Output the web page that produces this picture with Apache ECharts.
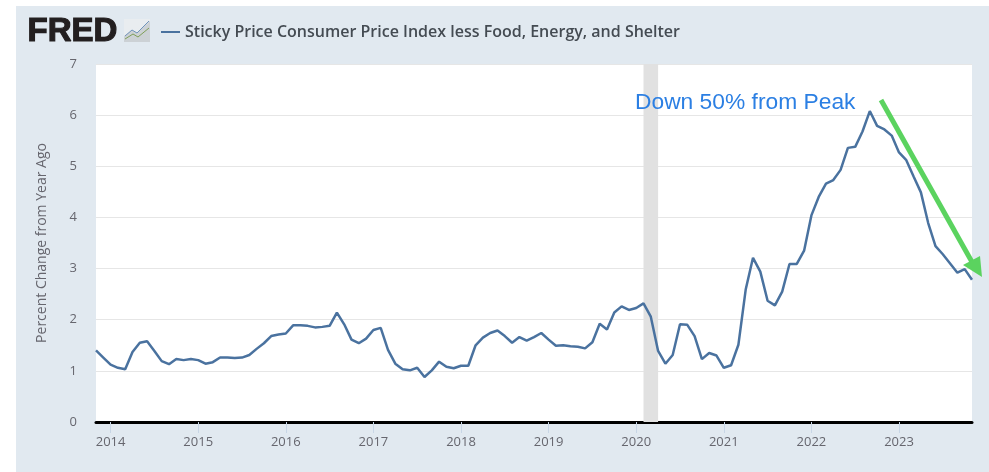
<!DOCTYPE html>
<html><head><meta charset="utf-8">
<style>html,body{margin:0;padding:0;background:#fff}#c{width:989px;height:472px}</style>
<script src="https://cdn.jsdelivr.net/npm/echarts@6/dist/echarts.min.js"></script>
</head><body><div id="c"></div>
<script>
const seriesName = 'Sticky Price Consumer Price Index less Food, Energy, and Shelter';
const yAxisName = 'Percent Change from Year Ago';
const startYear = 2013, startMonth = 11;
const values = [
1.40,1.26,1.12,1.06,1.03,1.37,1.55,1.58,1.39,1.19,1.13,1.23,1.21,
1.23,1.21,1.14,1.17,1.26,1.26,1.25,1.26,1.31,1.43,1.54,1.68,1.71,
1.73,1.89,1.89,1.88,1.85,1.86,1.88,2.14,1.91,1.61,1.54,1.63,
1.80,1.84,1.41,1.14,1.03,1.01,1.06,0.88,1.01,1.18,1.08,1.05,
1.10,1.10,1.50,1.65,1.74,1.79,1.68,1.55,1.66,1.59,1.66,1.74,
1.61,1.49,1.50,1.48,1.47,1.44,1.56,1.92,1.81,2.14,2.26,2.19,
2.23,2.32,2.06,1.39,1.14,1.31,1.91,1.90,1.68,1.23,1.35,1.30,
1.06,1.11,1.51,2.59,3.21,2.94,2.37,2.28,2.55,3.09,3.09,3.35,
4.04,4.40,4.66,4.73,4.93,5.36,5.38,5.68,6.08,5.79,5.72,5.60,
5.27,5.12,4.80,4.49,3.89,3.44,3.28,3.10,2.92,2.99,2.78];
const categories = values.map((_, i) => {
  const m = startMonth - 1 + i;
  return (startYear + Math.floor(m / 12)) + '-' + String(m % 12 + 1).padStart(2, '0');
});
const recession = ['2020-02', '2020-04'];
const annotation = 'Down 50% from Peak';

const chart = echarts.init(document.getElementById('c'), null, {renderer: 'canvas'});
const sans = '"Open Sans","Noto Sans",sans-serif';
const arial = '"Liberation Sans",Arial,sans-serif';
chart.setOption({
  animation: false,
  backgroundColor: '#ffffff',
  grid: {left: 96, right: 17, top: 64, bottom: 50, show: true, backgroundColor: '#ffffff', borderWidth: 0},
  legend: {
    show: true, left: 156, top: 19, itemWidth: 19, itemHeight: 2, itemGap: 7,
    icon: 'rect',
    textStyle: {fontFamily: sans, fontWeight: 600, fontSize: 16, color: '#444b52'},
    data: [seriesName]
  },
  xAxis: {
    type: 'category', data: categories, boundaryGap: false,
    axisLine: {onZero: true, lineStyle: {color: '#000', width: 3}},
    axisTick: {show: true, length: 11, lineStyle: {color: '#c8d6e6', width: 1},
      interval: (i, v) => v.endsWith('-01')},
    axisLabel: {
      interval: (i, v) => v.endsWith('-01'),
      formatter: v => v.slice(0, 4),
      margin: 14, fontFamily: sans, fontSize: 13, color: '#66666e'
    },
    splitLine: {show: false}
  },
  yAxis: {
    type: 'value', min: 0, max: 7, interval: 1,
    name: yAxisName, nameLocation: 'middle', nameGap: 47,
    nameTextStyle: {fontFamily: sans, fontSize: 14, color: '#66666e'},
    axisLine: {show: false}, axisTick: {show: false},
    axisLabel: {margin: 19, fontFamily: sans, fontSize: 13, color: '#66666e'},
    splitLine: {lineStyle: {color: '#e6e6e6', width: 1}}
  },
  series: [{
    name: seriesName, type: 'line', data: values, showSymbol: false, smooth: false,
    lineStyle: {color: '#4a729f', width: 2.5}, itemStyle: {color: '#4a729f'},
    z: 3,
    markArea: {silent: true, itemStyle: {color: '#e1e1e1'},
      data: [[{xAxis: recession[0]}, {xAxis: recession[1]}]]}
  }],
  graphic: [
    {type: 'rect', z: -10, silent: true, shape: {x: 16, y: 6, width: 973, height: 466}, style: {fill: '#e1e9f0'}},
    {type: 'text', left: 27, top: 15, z: 10, style: {text: 'FRED', fontFamily: arial, fontWeight: 900, fontSize: 33, fill: '#231f20', stroke: '#231f20', lineWidth: 1.2}},
    {type: 'rect', z: 10, shape: {x: 124, y: 19, width: 26, height: 23}, style: {fill: '#e9edf0'}},
    {type: 'polygon', z: 10, shape: {points: [[124,42],[124,36],[132,30],[137,33],[150,21],[150,42]]}, style: {fill: '#ccd1d5'}},
    {type: 'polyline', z: 11, shape: {points: [[125,36],[132,30],[137,33],[149,21]]}, style: {stroke: '#6f93ba', lineWidth: 1, fill: null}},
    {type: 'polyline', z: 11, shape: {points: [[125,39],[133,34],[138,37],[149,28]]}, style: {stroke: '#7f9f58', lineWidth: 1, fill: null}},
    {type: 'text', left: 635, top: 91, z: 10, style: {text: annotation, fontFamily: arial, fontSize: 22.8, fill: '#2b7fe3'}},
    {type: 'line', z: 12, shape: {x1: 881, y1: 100, x2: 972, y2: 262}, style: {stroke: '#5bd35f', lineWidth: 5}},
    {type: 'polygon', z: 12, shape: {points: [[982,277],[980,256],[963,265]]}, style: {fill: '#5bd35f'}}
  ]
});
</script></body></html>
